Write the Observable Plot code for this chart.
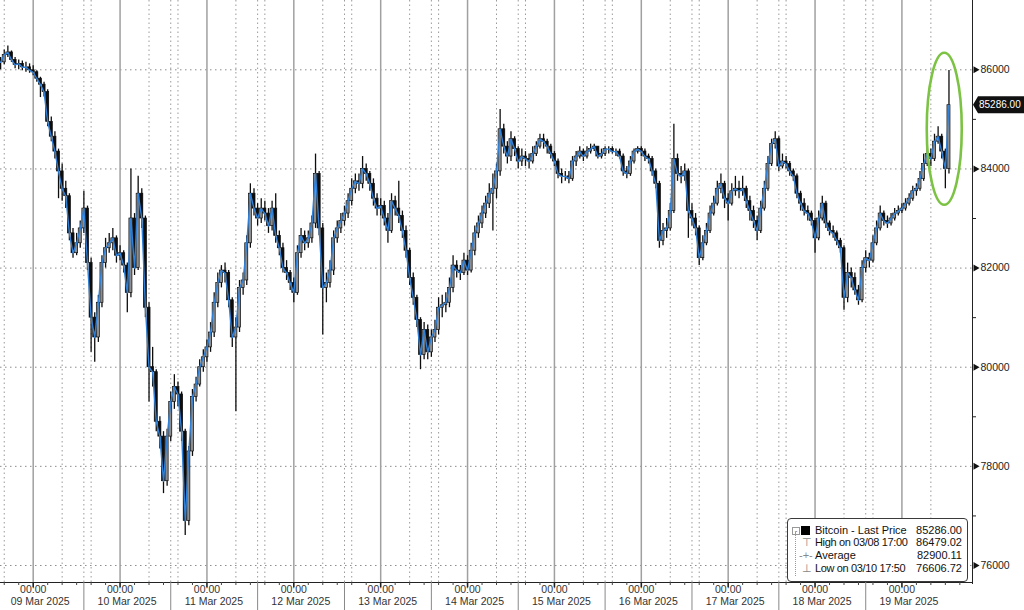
<!DOCTYPE html>
<html><head><meta charset="utf-8">
<script src="https://cdn.jsdelivr.net/npm/d3@7"></script>
<script src="https://cdn.jsdelivr.net/npm/@observablehq/plot@0.6"></script>
<style>
html,body{margin:0;padding:0;background:#fff;}
#wrap{position:relative;width:1024px;height:610px;overflow:hidden;font-family:"Liberation Sans",Arial,sans-serif;}
#wrap svg{position:absolute;left:0;top:0;}
#legend{position:absolute;left:787px;top:518px;width:181px;height:64px;border:1px solid #3a3a3a;border-radius:4px;background:#fff;box-sizing:border-box;font-size:11px;color:#111;}
#legend .row{position:absolute;left:0;right:0;height:13px;line-height:13px;white-space:nowrap;}
#legend .lab{position:absolute;left:27px;}
#legend .lab.tight{letter-spacing:-0.35px;}
#legend .val{position:absolute;right:5px;}
#legend .ico{position:absolute;left:14px;color:#888;font-size:11px;}
#legend .sq{position:absolute;left:13px;top:2px;width:9px;height:9px;background:#000;}
#legend .box{position:absolute;left:4px;top:3px;width:6px;height:6px;border:1px solid #999;font-size:8px;line-height:6px;text-align:center;color:#555;}
#legend .tree{position:absolute;left:7px;top:13px;width:0;height:44px;border-left:1px dotted #999;}
</style></head><body><div id="wrap"></div>
<script>
// ---- data (hourly bars) ----
const startUTC = Date.UTC(2025, 2, 8, 15); // first bar: 08 Mar 2025 15:00
const closeP = [
86150,86300,86350,86200,86100,86120,86050,86050,85990,85950,85820,85700,85550,84950,84650,84350,83950,83600,83450,82700,
82300,82500,82800,83200,82100,81000,80600,81300,82100,82400,82500,82600,82250,82300,82050,81500,83000,82000,83500,83000,
81200,80000,79900,78900,78600,77700,78600,79300,79600,79450,78700,76900,78300,79400,79650,80000,80200,80400,80700,81300,
81700,81950,81900,81350,80600,80800,81600,81750,82500,83500,83200,83000,83200,83100,82850,83200,82650,82400,82000,81900,
81700,81500,82300,82650,82500,82600,82900,83900,82800,81600,81700,81950,82600,82800,82950,83100,83350,83600,83750,83700,
84000,83900,83700,83400,83200,83250,83000,82750,83350,83200,83050,82750,82350,81800,81400,80950,80250,80750,80300,80600,
80750,81200,81250,81300,81600,82050,81950,81900,82150,81950,82350,82700,82900,83100,83300,83500,83600,83950,84800,84450,
84250,84600,84400,84150,84250,84200,84150,84300,84450,84600,84550,84450,84300,84150,83900,83850,83850,83800,84150,84250,
84350,84250,84350,84400,84450,84250,84300,84400,84400,84350,84350,84250,83950,83900,84150,84350,84400,84350,84250,84200,
83950,83700,82550,82750,82800,83150,84200,83900,83850,83950,83150,83000,82800,82200,82500,82750,83100,83300,83600,83700,
83400,83300,83550,83600,83550,83600,83350,83150,82950,82750,83200,83600,84100,84500,84600,84050,84150,84100,83950,83850,
83500,83300,83150,83100,82950,82600,83000,83300,82900,82750,82700,82550,82400,81400,81900,81800,81550,81350,82000,82200,
82150,82500,82800,83100,82950,82900,83000,83100,83150,83200,83300,83400,83550,83600,83800,84100,84300,84200,84550,84650,
84350,84000,85286];
const highP = [
86250,86400,86479,86380,86250,86200,86180,86150,86120,86080,85980,85850,85750,85600,85050,84750,84400,84100,83750,83500,
82800,82700,82950,83550,83250,82200,81100,81450,82250,82600,82700,82800,82650,82450,82350,82100,84000,83100,83850,83600,
83050,81300,80400,79950,79000,78700,78750,79500,79850,79700,79500,78750,78400,79550,79800,80150,80350,80550,80900,81500,
81900,82050,82100,81950,81400,81000,81750,81900,82650,83700,83600,83300,83400,83350,83200,83350,83500,82750,82500,82150,
81950,81800,82450,82800,82750,82750,83050,84300,83950,82900,81900,82150,82750,82950,83100,83250,83500,83800,83900,83900,
84250,84100,83950,83800,83500,83400,83350,83100,83500,83450,83750,83150,82850,82400,81900,81450,81000,80900,80850,80750,
80950,81400,81450,81500,81800,82250,82150,82050,82300,82250,82500,82850,83050,83250,83450,83700,83900,84100,85200,84900,
84550,84750,84650,84450,84400,84350,84300,84450,84550,84700,84700,84600,84500,84350,84200,84000,83950,83950,84250,84350,
84450,84400,84450,84500,84500,84450,84400,84450,84450,84450,84400,84400,84300,84050,84250,84400,84450,84450,84400,84300,
84250,84000,83750,82900,83000,83300,84900,84300,84050,84100,84000,83300,83100,82850,82650,82900,83250,83450,83750,83900,
83750,83500,83700,83850,83750,83850,83650,83450,83250,83050,83350,83750,84250,84600,84750,84650,84300,84250,84150,84000,
83900,83550,83400,83250,83150,83000,83150,83450,83350,82950,82850,82750,82600,82450,82100,82000,81900,81650,82150,82350,
82300,82650,82950,83250,83150,83050,83100,83200,83250,83300,83400,83500,83650,83700,83950,84300,84450,84400,84700,84850,
84700,84400,85986];
const lowP = [
86000,86100,86250,86150,86020,86000,85980,85950,85930,85880,85750,85440,85450,84850,84550,84200,83400,83350,83200,82550,
82200,82250,82400,82700,81950,80300,80100,80500,81200,82000,82300,82350,82100,82150,81900,81100,81400,81850,81950,82800,
81000,79300,79600,78700,78350,77450,77600,78500,79150,79200,78500,76607,76800,78200,79300,79600,79900,80100,80300,80600,
81200,81600,81700,81200,80400,79100,80700,81450,81650,82400,83050,82850,82900,82950,82700,82750,82500,82250,81900,81750,
81550,81300,81450,82200,82350,82400,82500,82800,82650,80650,81300,81600,81850,82500,82700,82850,83000,83250,83500,83550,
83600,83750,83550,83250,83050,83050,82850,82500,82700,83050,82900,82600,82200,81650,81250,80800,79950,80150,80150,80200,
80500,80650,81000,81100,81200,81500,81800,81750,81850,81850,81900,82250,82600,82800,83000,83200,82750,83400,83850,84300,
84100,84150,84250,84000,84050,84050,84000,84100,84250,84400,84400,84300,84200,84050,83800,83700,83750,83700,83750,84050,
84200,84150,84200,84300,84350,84200,84200,84250,84300,84300,84250,84200,83850,83800,83850,84100,84300,84250,84150,84100,
83850,83600,82400,82450,82600,82750,83100,83750,83700,83750,82600,82850,82650,82050,82150,82450,82700,83050,83250,83500,
83200,82950,83250,83450,83400,83450,83200,82950,82800,82550,82700,83150,83550,84050,84400,83950,84000,84000,83850,83750,
83400,83150,83050,82950,82850,82300,82550,82950,82800,82650,82600,82450,82300,81150,81300,81600,81450,81250,81300,81900,
82000,82100,82450,82750,82850,82800,82850,82950,83050,83100,83150,83250,83350,83450,83550,83750,84050,84050,84150,84500,
84200,83600,83900];

const dayLabels = ["09 Mar 2025","10 Mar 2025","11 Mar 2025","12 Mar 2025","13 Mar 2025","14 Mar 2025",
                   "15 Mar 2025","16 Mar 2025","17 Mar 2025","18 Mar 2025","19 Mar 2025"];
const yTicks = [76000, 78000, 80000, 82000, 84000, 86000];
const yMinorTicks = [77000, 79000, 81000, 83000, 85000];
const sessionHours = [8, 14, 16];      // dotted intraday grid hours
const separatorHour = 14;              // label separators on the time axis
const lastPrice = 85286.00;
const legendRows = [
  {label: "Bitcoin - Last Price", value: "85286.00"},
  {label: "High on 03/08 17:00", value: "86479.02"},
  {label: "Average", value: "82900.11"},
  {label: "Low on 03/10 17:50", value: "76606.72"}
];
const highlight = {time: Date.UTC(2025, 2, 19, 11, 50), price: 84800};

// ---- build ----
const H = 3600e3;
const bars = closeP.map((c, i) => ({
  t: new Date(startUTC + i * H),
  open: i ? closeP[i - 1] : c,
  close: c, high: highP[i], low: lowP[i]
}));
const lastT = +bars[bars.length - 1].t;
const day0 = Date.UTC(2025, 2, 9);
const midnights = dayLabels.map((_, i) => new Date(day0 + i * 864e5));
const sessions = [];
for (let d = -1; d < dayLabels.length; d++) for (const h of sessionHours) {
  const t = day0 + d * 864e5 + h * H;
  if (t >= startUTC && t <= lastT) sessions.push(new Date(t));
}
const separators = [];
for (let d = 0; d < dayLabels.length; d++) {
  const t = day0 + d * 864e5 + separatorHour * H;
  if (t <= lastT) separators.push(new Date(t));
}
const minorX = [];
for (let d = -1; d < dayLabels.length; d++) for (const h of [4, 8, 12, 16, 20]) {
  const t = day0 + d * 864e5 + h * H;
  if (t >= startUTC && t <= lastT + 6 * H) minorX.push(new Date(t));
}

const xDomain = [new Date(Date.UTC(2025, 2, 8, 14, 58)), new Date(Date.UTC(2025, 2, 19, 19, 30))];
const yDomain = [75657, 87398];
const W = 1024, HT = 610, mR = 52, mB = 28;
const vpp = (yDomain[1] - yDomain[0]) / (HT - mB);   // price units per pixel
const hpp = (xDomain[1] - xDomain[0]) / (W - mR);      // ms per pixel
const yb = yDomain[0];
const xe = xDomain[1];

const chart = Plot.plot({
  width: W, height: HT,
  marginTop: 0, marginLeft: 0, marginRight: mR, marginBottom: mB,
  style: {background: "transparent", overflow: "visible", fontFamily: "Liberation Sans, Arial, sans-serif"},
  x: {type: "utc", domain: xDomain, axis: null},
  y: {domain: yDomain, axis: null},
  marks: [
    Plot.ruleY(yTicks, {stroke: "#8c8c8c", strokeDasharray: "1.5,3.5", strokeWidth: 1}),
    Plot.ruleX(sessions, {stroke: "#9a9a9a", strokeDasharray: "1.5,3", strokeWidth: 1}),
    Plot.ruleX(midnights, {stroke: "#a0a0a0", strokeWidth: 1.5}),
    // candles
    Plot.ruleX(bars, {x: "t", y1: "low", y2: "high", stroke: "#0d0d0d", strokeWidth: 1.3}),
    Plot.rect(bars, {
      x1: d => new Date(+d.t - 0.42 * H), x2: d => new Date(+d.t + 0.42 * H),
      y1: "open", y2: "close",
      fill: d => d.close >= d.open ? "#8d8d8d" : "#0d0d0d", stroke: "#0d0d0d", strokeWidth: 0.7
    }),
    Plot.lineY(bars, {x: "t", y: "close", stroke: "#2f80d8", strokeWidth: 1.4}),
    // axes lines
    Plot.ruleX([xe], {stroke: "#222", strokeWidth: 1, y1: yb - 2 * vpp, y2: yDomain[1]}),
    Plot.ruleY([yb], {stroke: "#222", strokeWidth: 1}),
    // y axis ticks + labels
    Plot.dot(yTicks, {y: d => d, frameAnchor: "right", dx: 3, symbol: "triangle", rotate: 90, r: 2.6, fill: "#111", stroke: "none"}),
    Plot.ruleY(yMinorTicks, {y: d => d, x1: xe, x2: new Date(+xe + 4 * hpp), stroke: "#222"}),
    Plot.text(yTicks, {y: d => d, text: d => String(d), frameAnchor: "right", textAnchor: "start", dx: 8, fontSize: 10.5, fill: "#222"}),
    // x axis ticks + labels
    Plot.ruleX(midnights, {x: d => d, y1: yb, y2: yb - 5 * vpp, stroke: "#222", strokeWidth: 1.6}),
    Plot.ruleX(minorX, {x: d => d, y1: yb, y2: yb - 3 * vpp, stroke: "#444"}),
    Plot.ruleX(separators, {x: d => d, y1: yb, y2: yb - 28 * vpp, stroke: "#888", strokeWidth: 1}),
    Plot.text(midnights, {x: d => d, text: () => "00:00", frameAnchor: "bottom",
      lineAnchor: "top", dy: 3, fontSize: 10.5, fill: "#333"}),
    Plot.text(midnights, {x: d => d, text: (d, i) => dayLabels[i], frameAnchor: "bottom",
      lineAnchor: "top", dy: 15.5, dx: 7, fontSize: 10.5, fill: "#333"})
  ]
});

const wrap = document.getElementById("wrap");
wrap.appendChild(chart);

// last price tag and highlight ellipse placed via the chart scales
const sx = chart.scale("x"), sy = chart.scale("y");
const svg = d3.select(chart);
const ly = sy.apply(lastPrice), lx = sx.apply(xe);
const tag = svg.append("g");
tag.append("path")
  .attr("d", `M${lx + 1},${ly} L${lx + 6},${ly - 8.5} L${W},${ly - 8.5} L${W},${ly + 8.5} L${lx + 6},${ly + 8.5} Z`)
  .attr("fill", "#111");
tag.append("text").attr("x", lx + 7).attr("y", ly).attr("dy", "0.35em")
  .attr("text-anchor", "start")
  .attr("fill", "#fff").attr("font-size", 10).attr("font-family", "Liberation Sans, Arial, sans-serif")
  .text(lastPrice.toFixed(2));
svg.append("ellipse")
  .attr("cx", sx.apply(new Date(highlight.time))).attr("cy", sy.apply(highlight.price))
  .attr("rx", 17.5).attr("ry", 76)
  .attr("fill", "none").attr("stroke", "#7cc243").attr("stroke-width", 2.6);

// legend
const lg = document.createElement("div");
lg.id = "legend";
const tops = [5, 17, 30, 43];
lg.innerHTML = '<div class="tree"></div>' + legendRows.map((r, i) => {
  let ico;
  if (i === 0) ico = '<span class="box">-</span><span class="sq"></span>';
  else if (i === 1) ico = '<span class="ico">⊤</span>';
  else if (i === 2) ico = '<span class="ico" style="left:11px">-+-</span>';
  else ico = '<span class="ico">⊥</span>';
  const cls = (i === 1 || i === 3) ? "lab tight" : "lab";
  return `<div class="row" style="top:${tops[i]}px">${ico}<span class="${cls}">${r.label}</span><span class="val">${r.value}</span></div>`;
}).join("");
wrap.appendChild(lg);
</script>
</body></html>
